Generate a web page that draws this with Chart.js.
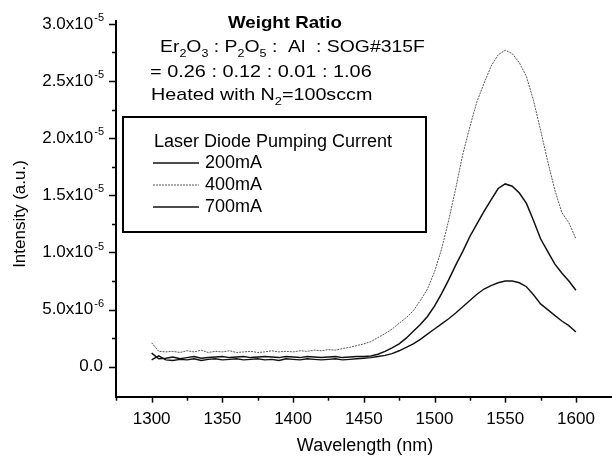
<!DOCTYPE html>
<html>
<head>
<meta charset="utf-8">
<script src="https://cdn.jsdelivr.net/npm/chart.js@4.4.1/dist/chart.umd.min.js"></script>
<style>
  html, body { margin: 0; padding: 0; background: #fff; }
  #wrap { width: 612px; height: 457px; }
</style>
</head>
<body>
<div id="wrap"><canvas id="chart" width="612" height="457"></canvas></div>
<script>
// wavelength (nm)
const wavelengths = [
  1300, 1305, 1310, 1315, 1320, 1325, 1330, 1335, 1340, 1345,
  1350, 1355, 1360, 1365, 1370, 1375, 1380, 1385, 1390, 1395,
  1400, 1405, 1410, 1415, 1420, 1425, 1430, 1435, 1440, 1445,
  1450, 1455, 1460, 1465, 1470, 1475, 1480, 1485, 1490, 1495,
  1500, 1505, 1510, 1515, 1520, 1525, 1530, 1535, 1540, 1545,
  1550, 1555, 1560, 1565, 1570, 1575, 1580, 1585, 1590, 1595, 1600
]

// intensity, in units of 1e-6 a.u.
const ma200 = [
  0.6, 0.95, 0.6, 0.55, 0.65, 0.6, 0.7, 0.55, 0.65, 0.7,
  0.6, 0.65, 0.7, 0.6, 0.65, 0.7, 0.6, 0.65, 0.55, 0.7,
  0.65, 0.6, 0.7, 0.65, 0.6, 0.65, 0.7, 0.6, 0.65, 0.7,
  0.75, 0.8, 0.9, 1.0, 1.15, 1.4, 1.7, 2.0, 2.4, 2.85,
  3.3, 3.75, 4.2, 4.7, 5.25, 5.8, 6.35, 6.8, 7.1, 7.35,
  7.5, 7.5, 7.35, 7.0, 6.3, 5.5, 5.0, 4.5, 4.0, 3.6, 3.05
]
const ma400 = [
  2.1, 1.35, 1.3, 1.35, 1.25, 1.4, 1.3, 1.45, 1.25, 1.35,
  1.3, 1.4, 1.25, 1.3, 1.35, 1.25, 1.3, 1.4, 1.3, 1.35,
  1.3, 1.4, 1.35, 1.45, 1.4, 1.5, 1.45, 1.6, 1.7, 1.85,
  2.0, 2.2, 2.55, 2.9, 3.3, 3.8, 4.3, 4.9, 5.8, 6.8,
  8.3, 10.3, 12.8, 15.6, 18.6, 21.0, 23.2, 24.8, 26.3, 27.3,
  27.7, 27.4, 26.6, 25.4, 23.3, 20.7, 18.0, 15.5, 13.5, 12.6, 11.2
]
const ma700 = [
  1.2, 0.7, 0.75, 0.85, 0.7, 0.8, 0.9, 0.75, 0.8, 0.85,
  0.9, 0.8, 0.85, 0.9, 0.8, 0.85, 0.9, 0.85, 0.8, 0.9,
  0.85, 0.8, 0.9, 0.85, 0.8, 0.85, 0.9, 0.8, 0.85, 0.9,
  0.9, 0.95, 1.1, 1.35, 1.65, 2.0, 2.5, 3.1, 3.7, 4.4,
  5.3, 6.4, 7.6, 8.9, 10.1, 11.4, 12.5, 13.6, 14.6, 15.6,
  16.0, 15.8, 15.2, 14.3, 12.8, 11.2, 10.1, 9.0, 8.2, 7.5, 6.7
]

const seriesLabels = ['200mA', '400mA', '700mA']
const xTicks = [1275, 1300, 1325, 1350, 1375, 1400, 1425, 1450, 1475, 1500, 1525, 1550, 1575, 1600]
const xLabeled = [1300, 1350, 1400, 1450, 1500, 1550, 1600]
const yTicks = [0, 2.5, 5, 7.5, 10, 12.5, 15, 17.5, 20, 22.5, 25, 27.5, 30]
const yLabeled = [0, 5, 10, 15, 20, 25, 30]

const xTitle = 'Wavelength (nm)'
const yTitle = 'Intensity (a.u.)'
const legendTitle = 'Laser Diode Pumping Current'
const noteTitle = 'Weight Ratio'
// [text, isSubscript]
const noteLine1 = [['Er', 0], ['2', 1], ['O', 0], ['3', 1], [' : P', 0], ['2', 1], ['O', 0], ['5', 1], [' :  Al  : SOG#315F', 0]]
const noteLine2 = [['= 0.26 : 0.12 : 0.01 : 1.06', 0]]
const noteLine3 = [['Heated with N', 0], ['2', 1], ['=100sccm', 0]]

const FONT = '"Liberation Sans", Arial, Helvetica, sans-serif'

// text in the original is a little wider than the font, so stretch it sideways
function drawRun(ctx, x, y, parts, size, stretch) {
  ctx.save()
  ctx.translate(x, y)
  ctx.scale(stretch, 1)
  let cx = 0
  parts.forEach(([t, sub]) => {
    const s = sub ? Math.round(size * 0.64) : size
    ctx.font = s + 'px ' + FONT
    ctx.fillText(t, cx, sub ? size * 0.3 : 0)
    cx += ctx.measureText(t).width
  })
  ctx.restore()
}

const extras = {
  id: 'extras',
  afterDraw(chart) {
    const ctx = chart.ctx
    const xs = chart.scales.x
    const ys = chart.scales.y
    const area = chart.chartArea
    ctx.save()
    ctx.fillStyle = '#000'
    ctx.strokeStyle = '#000'

    // tick marks
    ctx.lineWidth = 1.5
    xTicks.forEach((v) => {
      const px = Math.round(xs.getPixelForValue(v)) + 0.5
      const len = xLabeled.includes(v) ? 6 : 4
      ctx.beginPath()
      ctx.moveTo(px, area.bottom)
      ctx.lineTo(px, area.bottom + len)
      ctx.stroke()
    })
    yTicks.forEach((v) => {
      const py = Math.round(ys.getPixelForValue(v)) + 0.5
      const len = yLabeled.includes(v) ? 7 : 4
      ctx.beginPath()
      ctx.moveTo(area.left, py)
      ctx.lineTo(area.left - len, py)
      ctx.stroke()
    })

    // y tick labels with superscript exponents
    ctx.textBaseline = 'middle'
    yLabeled.forEach((v) => {
      const py = ys.getPixelForValue(v)
      const right = 104
      if (v === 0) {
        ctx.font = '17px ' + FONT
        ctx.textAlign = 'right'
        ctx.fillText('0.0', right - 1, py)
        return
      }
      const val = v * 1e-6
      const exp = Math.floor(Math.log10(val) + 1e-9)
      const mant = (val / Math.pow(10, exp)).toFixed(1)
      const base = mant + 'x10'
      const sup = String(exp)
      ctx.textAlign = 'left'
      ctx.font = '11px ' + FONT
      const supW = ctx.measureText(sup).width
      ctx.font = '17px ' + FONT
      const baseW = ctx.measureText(base).width
      const x0 = right - supW - baseW - 1
      ctx.fillText(base, x0, py)
      ctx.font = '11px ' + FONT
      ctx.fillText(sup, x0 + baseW + 1, py - 6)
    })

    // axis titles
    ctx.textAlign = 'center'
    ctx.textBaseline = 'middle'
    ctx.font = '18px ' + FONT
    ctx.fillText(xTitle, 365, 446)
    ctx.font = '17px ' + FONT
    ctx.save()
    ctx.translate(20, 214)
    ctx.rotate(-Math.PI / 2)
    ctx.fillText(yTitle, 0, 0)
    ctx.restore()

    // notes
    ctx.textBaseline = 'alphabetic'
    ctx.save()
    ctx.translate(285, 28)
    ctx.scale(1.1, 1)
    ctx.font = 'bold 17px ' + FONT
    ctx.textAlign = 'center'
    ctx.fillText(noteTitle, 0, 0)
    ctx.restore()
    ctx.textAlign = 'left'
    drawRun(ctx, 160, 52, noteLine1, 17, 1.14)
    drawRun(ctx, 150, 77, noteLine2, 17, 1.17)
    drawRun(ctx, 151, 100, noteLine3, 17, 1.16)

    // legend box
    ctx.lineWidth = 2
    ctx.strokeRect(123, 117, 303, 115)
    ctx.font = '18px ' + FONT
    ctx.textBaseline = 'middle'
    ctx.fillText(legendTitle, 154, 142)
    const rows = [163, 185, 207]
    chart.data.datasets.forEach((ds, i) => {
      ctx.save()
      ctx.strokeStyle = ds.borderColor
      ctx.lineWidth = ds.borderWidth
      ctx.setLineDash(ds.borderDash || [])
      ctx.beginPath()
      ctx.moveTo(153, rows[i])
      ctx.lineTo(199, rows[i])
      ctx.stroke()
      ctx.restore()
      ctx.fillText(ds.label, 205, rows[i])
    })
    ctx.restore()
  }
}

function toPoints(values) {
  return wavelengths.map((w, i) => ({ x: w, y: values[i] }))
}

const ctx = document.getElementById('chart').getContext('2d')
const chart = new Chart(ctx, {
  type: 'line',
  data: {
    datasets: [
      { label: seriesLabels[0], data: toPoints(ma200), borderColor: '#111', borderWidth: 1.4 },
      { label: seriesLabels[1], data: toPoints(ma400), borderColor: '#555', borderWidth: 1, borderDash: [2, 1] },
      { label: seriesLabels[2], data: toPoints(ma700), borderColor: '#111', borderWidth: 1.5 },
    ]
  },
  options: {
    responsive: false,
    animation: false,
    elements: { point: { radius: 0 }, line: { tension: 0 } },
    layout: { padding: { top: 20.5, right: 0, left: 0, bottom: 0 } },
    plugins: { legend: { display: false }, tooltip: { enabled: false } },
    scales: {
      x: {
        type: 'linear',
        min: 1274.8,
        max: 1625.5,
        afterBuildTicks: (s) => { s.ticks = xLabeled.map((v) => ({ value: v })) },
        afterFit: (s) => { s.height = 60.3 },
        grid: { display: false, drawTicks: false },
        border: { display: true, color: '#000', width: 2 },
        ticks: {
          autoSkip: false,
          maxRotation: 0,
          padding: 12,
          color: '#000',
          font: { family: FONT, size: 17 },
          callback: (v) => String(v),
        }
      },
      y: {
        type: 'linear',
        min: -2.62,
        max: 30.3,
        afterBuildTicks: (s) => { s.ticks = yTicks.map((v) => ({ value: v })) },
        afterFit: (s) => { s.width = 116 },
        grid: { display: false, drawTicks: false },
        border: { display: true, color: '#000', width: 2 },
        ticks: { callback: () => '' }
      }
    }
  },
  plugins: [extras]
})
</script>
</body>
</html>
